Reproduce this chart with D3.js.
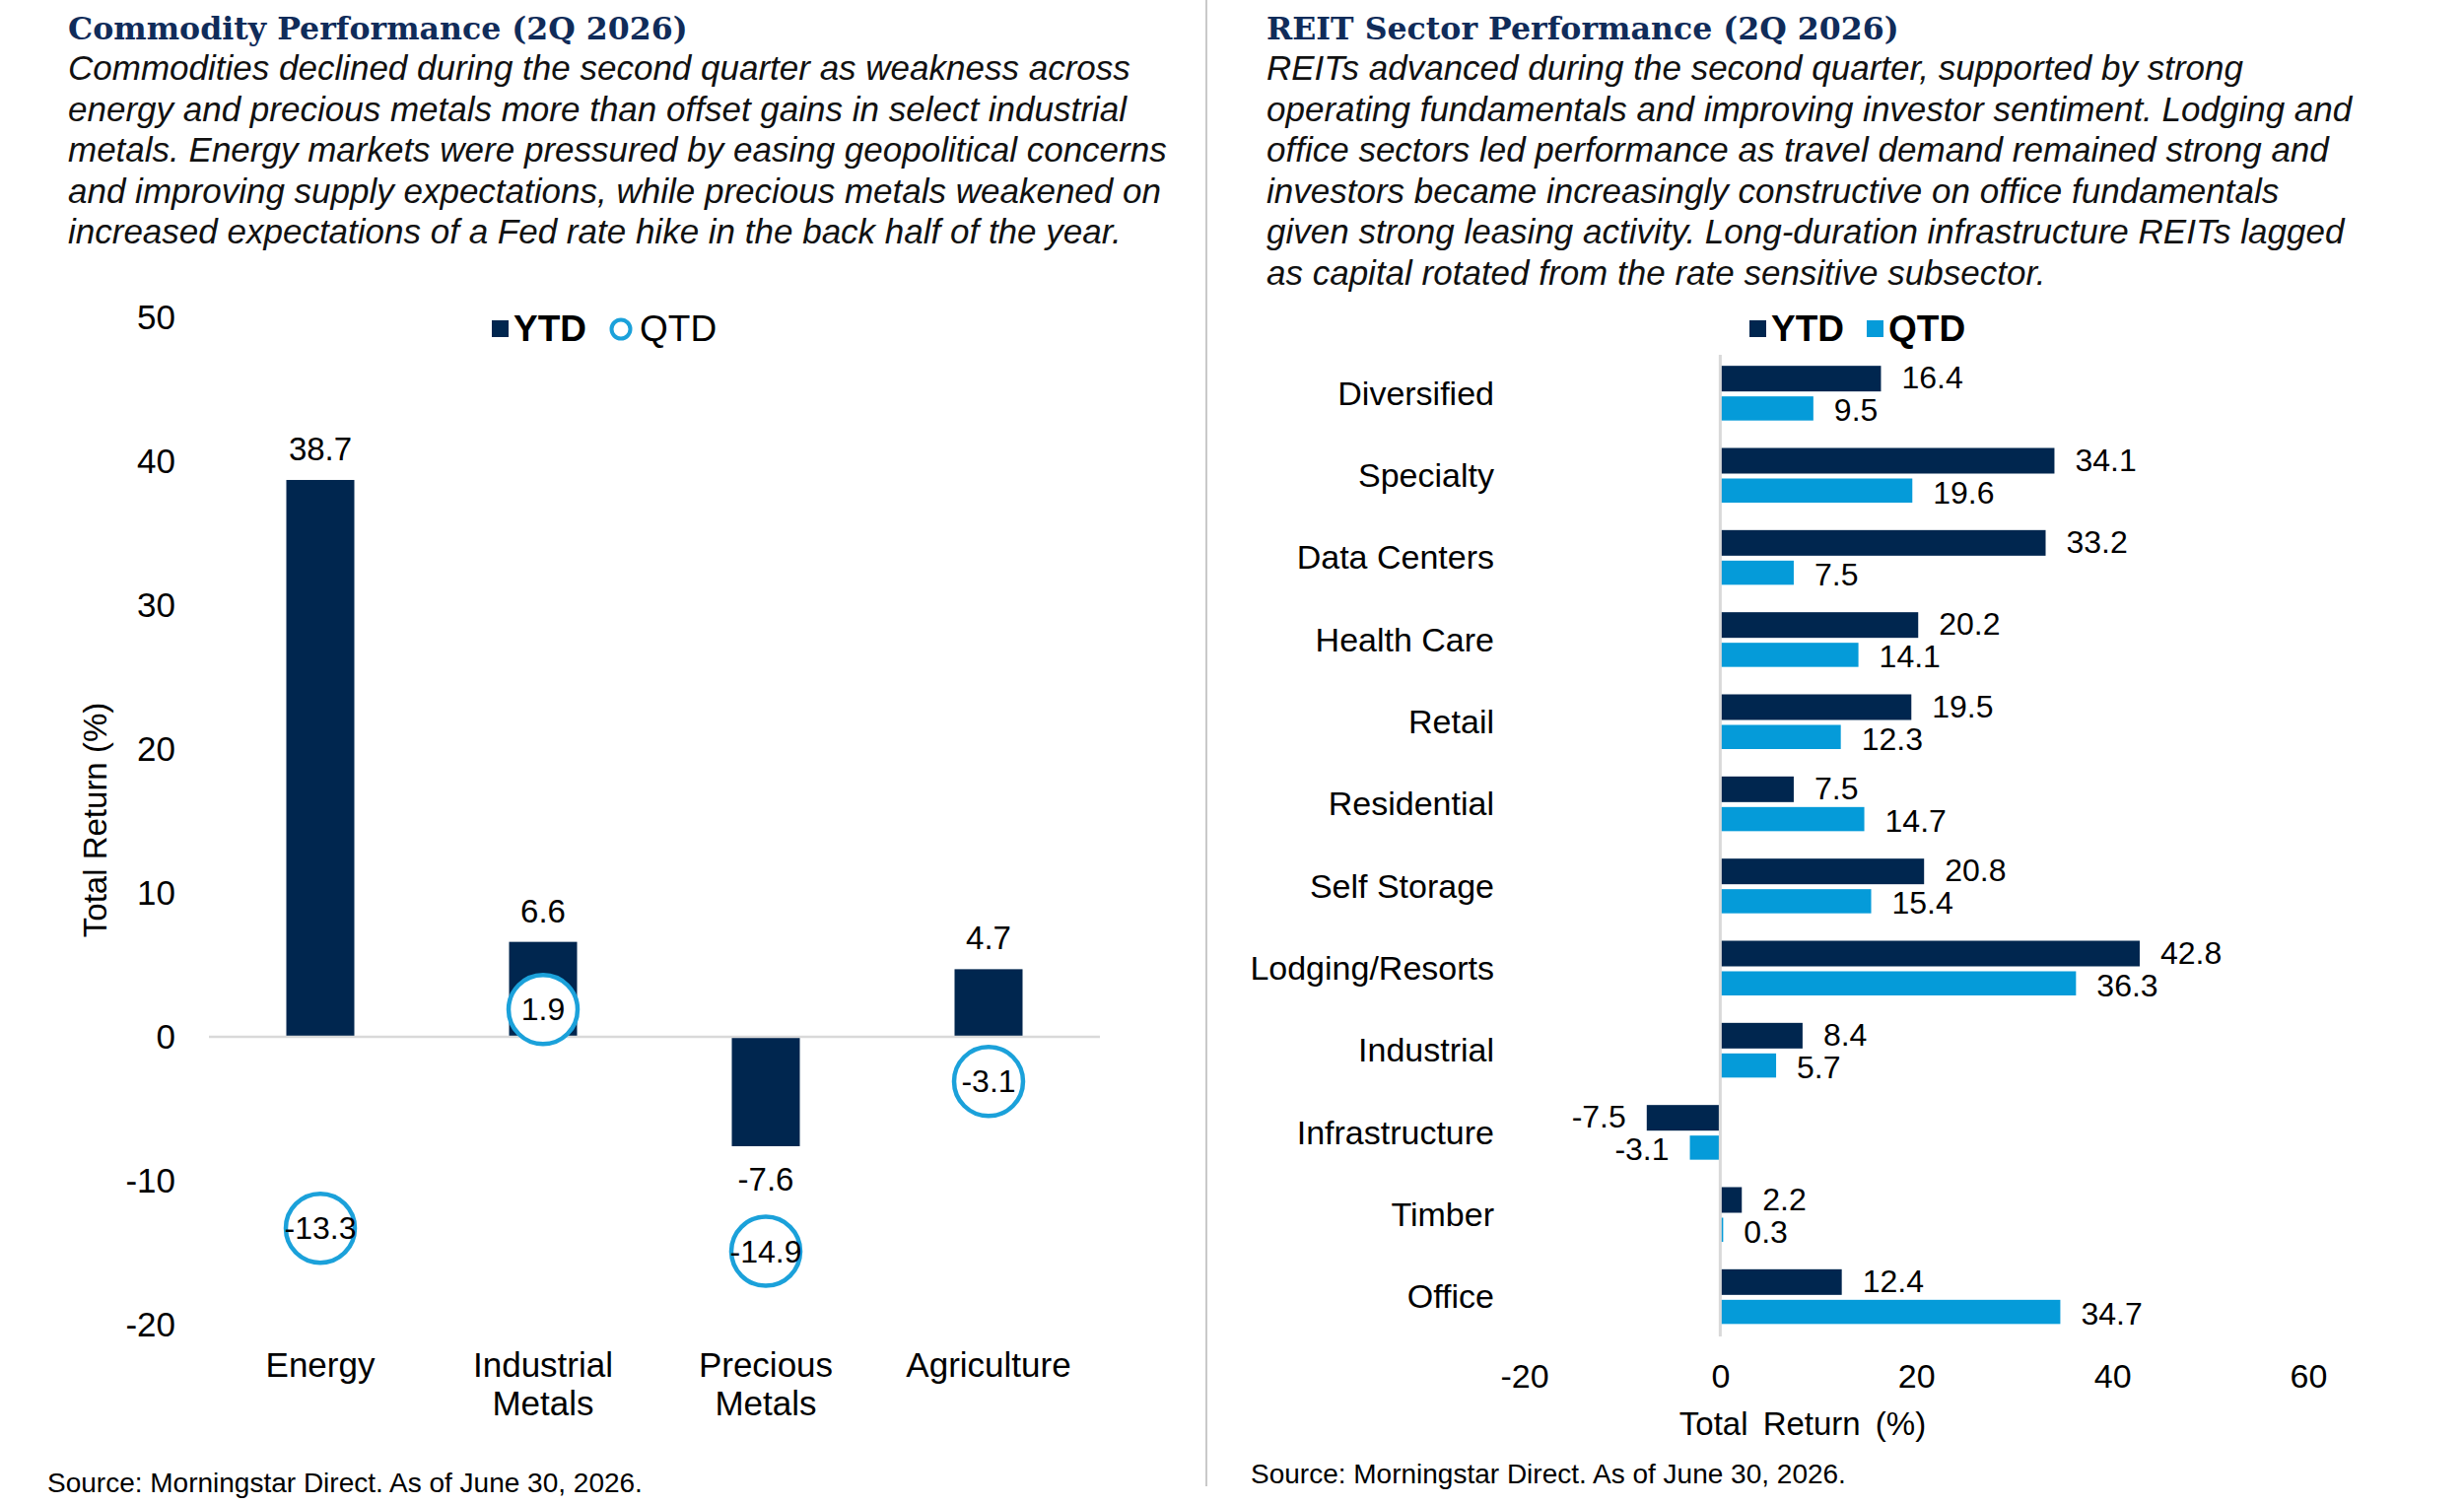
<!DOCTYPE html>
<html>
<head>
<meta charset="utf-8">
<script src="https://cdn.jsdelivr.net/npm/d3@7"></script>
<style>
  html, body { margin: 0; padding: 0; background: #fff; }
  svg { display: block; }
  text { font-family: "Liberation Sans", Arial, sans-serif; fill: #000; }
</style>
</head>
<body>
<svg id="chart" width="2500" height="1526"></svg>
<script>
// ---------- DATA ----------
const leftTitle = "Commodity Performance (2Q 2026)";
const leftParagraph = [
  "Commodities declined during the second quarter as weakness across",
  "energy and precious metals more than offset gains in select industrial",
  "metals. Energy markets were pressured by easing geopolitical concerns",
  "and improving supply expectations, while precious metals weakened on",
  "increased expectations of a Fed rate hike in the back half of the year."
];
const commodityCategories = ["Energy", "Industrial Metals", "Precious Metals", "Agriculture"];
const commodityYTD = [38.7, 6.6, -7.6, 4.7];
const commodityQTD = [-13.3, 1.9, -14.9, -3.1];
const commodityTicks = [-20, -10, 0, 10, 20, 30, 40, 50];

const rightTitle = "REIT Sector Performance (2Q 2026)";
const rightParagraph = [
  "REITs advanced during the second quarter, supported by strong",
  "operating fundamentals and improving investor sentiment. Lodging and",
  "office sectors led performance as travel demand remained strong and",
  "investors became increasingly constructive on office fundamentals",
  "given strong leasing activity. Long-duration infrastructure REITs lagged",
  "as capital rotated from the rate sensitive subsector."
];
const reitSectors = ["Diversified", "Specialty", "Data Centers", "Health Care", "Retail", "Residential",
  "Self Storage", "Lodging/Resorts", "Industrial", "Infrastructure", "Timber", "Office"];
const reitYTD = [16.4, 34.1, 33.2, 20.2, 19.5, 7.5, 20.8, 42.8, 8.4, -7.5, 2.2, 12.4];
const reitQTD = [9.5, 19.6, 7.5, 14.1, 12.3, 14.7, 15.4, 36.3, 5.7, -3.1, 0.3, 34.7];
const reitTicks = [-20, 0, 20, 40, 60];

const seriesNames = ["YTD", "QTD"];
const axisTitle = "Total Return (%)";
const sourceText = "Source: Morningstar Direct. As of June 30, 2026.";

// ---------- STYLE ----------
const NAVY = "#00264f";
const BLUE = "#059bd9";
const CIRCLE = "#1ba1da";
const TITLE = "#102c5a";
const GRID = "#d9d9d9";
const fmt = v => v.toFixed(1);        // plain hyphen-minus as in the reference
const fmtInt = v => String(v);

const svg = d3.select("#chart");

// ---------- HEADERS ----------
function header(x, title, lines) {
  svg.append("text").attr("x", x).attr("y", 40)
    .style("font-family", '"DejaVu Serif", Georgia, serif')
    .style("font-weight", "bold").style("font-size", "31.6px")
    .style("fill", TITLE).text(title);
  svg.append("g").selectAll("text").data(lines).join("text")
    .attr("x", x).attr("y", (d, i) => 81 + i * 41.6)
    .style("font-style", "italic").style("font-size", "35px")
    .style("fill", "#111").text(d => d);
}
header(69, leftTitle, leftParagraph);
header(1285, rightTitle, rightParagraph);

// divider
svg.append("line").attr("x1", 1224).attr("x2", 1224).attr("y1", 0).attr("y2", 1508)
  .attr("stroke", "#c9c9c9").attr("stroke-width", 2);

// ---------- LEFT CHART ----------
const xL = d3.scaleBand().domain(commodityCategories).range([212, 1116]);
const yL = d3.scaleLinear().domain([-20, 50]).range([1344, 322]);
const barW = 69;

const yAxisG = svg.append("g").attr("transform", "translate(190,0)")
  .call(d3.axisLeft(yL).tickValues(commodityTicks).tickSize(0).tickPadding(12).tickFormat(fmtInt));
yAxisG.select(".domain").remove();
yAxisG.selectAll("text").style("font-size", "35px").style("font-family", '"Liberation Sans", Arial, sans-serif').attr("fill", "#000");

svg.append("text").attr("transform", "translate(96,832) rotate(-90)")
  .attr("text-anchor", "middle").attr("dominant-baseline", "central")
  .style("font-size", "33px").text(axisTitle);

const leftData = commodityCategories.map((c, i) => ({ c, ytd: commodityYTD[i], qtd: commodityQTD[i] }));
svg.append("g").selectAll("rect").data(leftData).join("rect")
  .attr("x", d => xL(d.c) + xL.bandwidth() / 2 - barW / 2)
  .attr("width", barW)
  .attr("y", d => yL(Math.max(0, d.ytd)))
  .attr("height", d => Math.abs(yL(d.ytd) - yL(0)))
  .attr("fill", NAVY);

svg.append("line").attr("x1", xL.range()[0]).attr("x2", xL.range()[1])
  .attr("y1", yL(0)).attr("y2", yL(0)).attr("stroke", GRID).attr("stroke-width", 2.5);

svg.append("g").selectAll("text").data(leftData).join("text")
  .attr("x", d => xL(d.c) + xL.bandwidth() / 2)
  .attr("y", d => d.ytd >= 0 ? yL(d.ytd) - 20 : yL(d.ytd) + 45)
  .attr("text-anchor", "middle").style("font-size", "33px")
  .text(d => fmt(d.ytd));

const qg = svg.append("g").selectAll("g").data(leftData).join("g")
  .attr("transform", d => `translate(${xL(d.c) + xL.bandwidth() / 2},${yL(d.qtd)})`);
qg.append("circle").attr("r", 35).attr("fill", "#fff").attr("stroke", CIRCLE).attr("stroke-width", 4.5);
qg.append("text").attr("text-anchor", "middle").attr("dominant-baseline", "central")
  .style("font-size", "32px").text(d => fmt(d.qtd));

svg.append("g").selectAll("text").data(commodityCategories).join("text")
  .attr("x", d => xL(d) + xL.bandwidth() / 2)
  .attr("y", 1397)
  .attr("text-anchor", "middle").style("font-size", "35px")
  .each(function (d) {
    const words = d.split(" ");
    d3.select(this).selectAll("tspan").data(words).join("tspan")
      .attr("x", xL(d) + xL.bandwidth() / 2)
      .attr("dy", (w, i) => i === 0 ? 0 : 39)
      .text(w => w);
  });

const legL = svg.append("g");
legL.append("rect").attr("x", 499).attr("y", 325).attr("width", 17).attr("height", 17).attr("fill", NAVY);
legL.append("text").attr("x", 521).attr("y", 346).style("font-size", "37px").style("font-weight", "bold").text(seriesNames[0]);
legL.append("circle").attr("cx", 630).attr("cy", 334).attr("r", 9.5).attr("fill", "none").attr("stroke", CIRCLE).attr("stroke-width", 4);
legL.append("text").attr("x", 649).attr("y", 346).style("font-size", "37px").text(seriesNames[1]);

svg.append("text").attr("x", 48).attr("y", 1514).style("font-size", "28px").text(sourceText);

// ---------- RIGHT CHART ----------
const xR = d3.scaleLinear().domain([-20, 60]).range([1546.5, 2342]);
const yR = d3.scaleBand().domain(reitSectors).range([357, 1357]);

const xAxisG = svg.append("g").attr("transform", "translate(0,1374)")
  .call(d3.axisBottom(xR).tickValues(reitTicks).tickSize(0).tickPadding(10).tickFormat(fmtInt));
xAxisG.select(".domain").remove();
xAxisG.selectAll("text").style("font-size", "34px").style("font-family", '"Liberation Sans", Arial, sans-serif').attr("fill", "#000");

svg.append("text").attr("x", 1829).attr("y", 1456).attr("text-anchor", "middle")
  .style("font-size", "33px").style("word-spacing", "6px").text(axisTitle);

const rightData = reitSectors.map((s, i) => ({ s, ytd: reitYTD[i], qtd: reitQTD[i] }));
const c = d => yR(d.s) + yR.bandwidth() / 2;

svg.append("g").selectAll("text").data(rightData).join("text")
  .attr("x", 1516).attr("y", d => c(d))
  .attr("text-anchor", "end").attr("dominant-baseline", "central")
  .style("font-size", "34px").text(d => d.s);

const series = [
  { key: "ytd", color: NAVY, off: -27.5, h: 26, dy: -1 },
  { key: "qtd", color: BLUE, off: 3.5, h: 24.5, dy: 2 }
];
series.forEach(sr => {
  svg.append("g").selectAll("rect").data(rightData).join("rect")
    .attr("x", d => xR(Math.min(0, d[sr.key])))
    .attr("width", d => Math.abs(xR(d[sr.key]) - xR(0)))
    .attr("y", d => c(d) + sr.off)
    .attr("height", sr.h)
    .attr("fill", sr.color);
  svg.append("g").selectAll("text").data(rightData).join("text")
    .attr("x", d => d[sr.key] >= 0 ? xR(d[sr.key]) + 21 : xR(d[sr.key]) - 21)
    .attr("y", d => c(d) + sr.off + sr.h / 2 + sr.dy)
    .attr("text-anchor", d => d[sr.key] >= 0 ? "start" : "end")
    .attr("dominant-baseline", "central")
    .style("font-size", "32px").text(d => fmt(d[sr.key]));
});

svg.append("line").attr("x1", xR(0)).attr("x2", xR(0)).attr("y1", 360).attr("y2", 1356)
  .attr("stroke", GRID).attr("stroke-width", 3);

const legR = svg.append("g");
legR.append("rect").attr("x", 1775).attr("y", 325).attr("width", 17).attr("height", 17).attr("fill", NAVY);
legR.append("text").attr("x", 1797).attr("y", 346).style("font-size", "37px").style("font-weight", "bold").text(seriesNames[0]);
legR.append("rect").attr("x", 1894).attr("y", 325).attr("width", 17).attr("height", 17).attr("fill", BLUE);
legR.append("text").attr("x", 1916).attr("y", 346).style("font-size", "37px").style("font-weight", "bold").text(seriesNames[1]);

svg.append("text").attr("x", 1269).attr("y", 1505).style("font-size", "28px").text(sourceText);
</script>
</body>
</html>
